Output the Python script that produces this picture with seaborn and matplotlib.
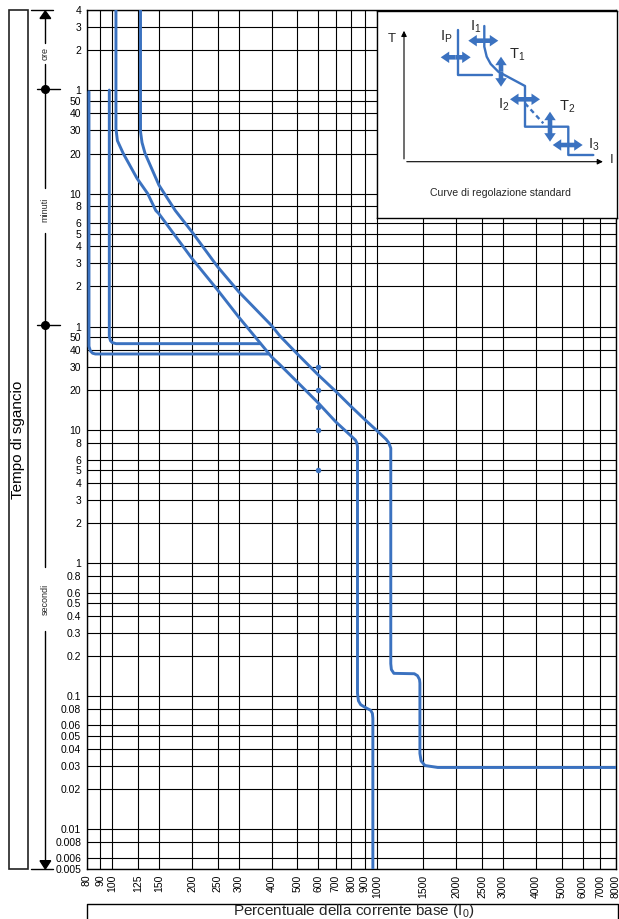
import pandas as pd
import seaborn as sns
import matplotlib.pyplot as plt
from matplotlib.patches import Rectangle, Polygon, FancyArrow
from matplotlib.ticker import NullLocator

# ---- data ----
# x grid, % of base current
x_ticks = [80, 90, 100, 125, 150, 200, 250, 300, 400, 500, 600, 700, 800, 900,
           1000, 1500, 2000, 2500, 3000, 4000, 5000, 6000, 7000, 8000]

# y grid: seconds / minutes / hours
sec_ticks = [0.005, 0.006, 0.008, 0.01, 0.02, 0.03, 0.04, 0.05, 0.06, 0.08,
             0.1, 0.2, 0.3, 0.4, 0.5, 0.6, 0.8, 1, 2, 3, 4, 5, 6, 8, 10,
             20, 30, 40, 50]
min_ticks = [1, 2, 3, 4, 5, 6, 8, 10, 20, 30, 40, 50]
hour_ticks = [1, 2, 3, 4]

# trip curves (current in %, time in s)
curve_a_pct = [81.6, 81.6, 82.6, 84.2, 86.3, 390]
curve_a_sec = [3500, 42.6, 39.3, 37.8, 37.3, 37.3]

curve_b_pct = [97.4, 97.4, 98.4, 100, 103.2, 362]
curve_b_sec = [3600, 50.4, 46.9, 45.4, 44.6, 44.6]

curve_low_pct = [103.2, 103.2, 104.5, 110, 124, 136, 146, 150, 200, 250, 300,
                 400, 430, 500, 600, 700, 800, 830, 840, 845, 845, 852, 869,
                 909, 948, 962, 966, 966]
curve_low_sec = [14400, 1850, 1500, 1200, 780, 600, 447, 423, 195, 113, 71,
                 35.5, 31, 23, 16, 11.5, 9, 8.4, 8.0, 7.5, 0.105, 0.092, 0.086,
                 0.0815, 0.078, 0.074, 0.068, 0.005]

curve_high_pct = [127.8, 127.8, 129.5, 133, 150, 173, 200, 250, 300, 400, 430,
                  500, 600, 700, 800, 900, 1000, 1085, 1110, 1129, 1129, 1135,
                  1160, 1386, 1425, 1450, 1455, 1455, 1470, 1520, 1700, 8000]
curve_high_sec = [14400, 1750, 1450, 1200, 695, 447, 309, 169, 110, 61, 51,
                  37.4, 26, 19.5, 15, 12, 9.9, 8.5, 8.0, 7.3, 0.175, 0.158,
                  0.148, 0.147, 0.142, 0.133, 0.125, 0.037, 0.0325, 0.030,
                  0.029, 0.029]

dot_pct = [600, 600, 600, 600, 600]
dot_sec = [30, 20, 15, 10, 5]

# schematic of the inset (local units, y pointing down)
sch_ip_x = [81.6, 81.6, 115]
sch_ip_y = [19, 64, 64]
sch_main_x = [107.6, 107.6, 110, 114, 121.6, 148.3, 148.3, 191.6, 191.6, 216.6]
sch_main_y = [15, 35.7, 45.7, 53, 60.7, 75, 115.7, 115.7, 144, 144]
sch_dash_x = [148.3, 166.6]
sch_dash_y = [92.3, 112.3]
# double arrows: centre x, centre y, orientation
sch_arrows = [(79, 46.3, 'h'), (106.6, 29.7, 'h'), (124.3, 60.7, 'v'),
              (148.3, 88.3, 'h'), (173.3, 115.7, 'v'), (191, 134, 'h')]
sch_labels = [(70, 25.7, r'$\mathrm{I}_\mathrm{P}$'), (99.3, 15.7, r'$\mathrm{I}_1$'),
              (140, 44, r'$\mathrm{T}_1$'), (127.3, 94, r'$\mathrm{I}_2$'),
              (190, 96.3, r'$\mathrm{T}_2$'), (216.6, 134, r'$\mathrm{I}_3$')]

blue = '#3b72c0'
W, H = 619, 919

sns.set_theme(style='white')
plt.rcParams['font.family'] = ['Liberation Sans', 'DejaVu Sans']
plt.rcParams['mathtext.fontset'] = 'custom'
plt.rcParams['mathtext.rm'] = 'Liberation Sans'
plt.rcParams['mathtext.it'] = 'Liberation Sans:italic'

fig = plt.figure(figsize=(W / 100, H / 100), dpi=100)
ax = fig.add_axes([86.7 / W, 1 - 869 / H, (615.7 - 86.7) / W, (869 - 10) / H])
ax.set_xscale('log')
ax.set_yscale('log')

for px, sy in [(curve_a_pct, curve_a_sec), (curve_b_pct, curve_b_sec),
               (curve_low_pct, curve_low_sec), (curve_high_pct, curve_high_sec)]:
    df = pd.DataFrame({'pct': px, 'sec': sy})
    sns.lineplot(data=df, x='pct', y='sec', sort=False, estimator=None,
                 color=blue, lw=2.1, ax=ax, zorder=3)
sns.scatterplot(x=dot_pct, y=dot_sec, color=blue, s=16, linewidth=0, alpha=1,
                ax=ax, zorder=4)

ax.set_xlim(80, 8000)
ax.set_ylim(0.005, 14400)

y_pos = sec_ticks + [m * 60 for m in min_ticks] + [h * 3600 for h in hour_ticks]
y_lab = [f'{v:g}' for v in sec_ticks + min_ticks + hour_ticks]
ax.set_yticks(y_pos)
ax.set_yticklabels(y_lab, fontsize=7.5)
ax.set_xticks(x_ticks)
ax.set_xticklabels([str(v) for v in x_ticks], rotation=90, fontsize=7.5)
ax.xaxis.set_minor_locator(NullLocator())
ax.yaxis.set_minor_locator(NullLocator())
ax.tick_params(length=0, pad=4, colors='black')
ax.grid(True, which='major', color='black', lw=0.8)
ax.set_xlabel('')
ax.set_ylabel('')
for s in ax.spines.values():
    s.set_color('black')
    s.set_linewidth(1)

# ---- overlay in pixel coordinates for the side decorations ----
ov = fig.add_axes([0, 0, 1, 1], zorder=5)
ov.set_xlim(0, W)
ov.set_ylim(H, 0)
ov.axis('off')
ov.patch.set_alpha(0)

ov.add_patch(Rectangle((9.3, 10), 18.7, 859, fill=False, ec='#222222', lw=1.2))
ov.text(18.5, 440, 'Tempo di sgancio', rotation=90, ha='center', va='center',
        fontsize=11, color='black')

cx = 45.3
kw = dict(color='black', lw=1)
ov.plot([30.7, 53.3], [10, 10], **kw)
ov.plot([30.7, 53.3], [869, 869], **kw)
ov.plot([cx, cx], [18, 43.3], **kw)
ov.plot([cx, cx], [64, 188], **kw)
ov.plot([cx, cx], [232.7, 566.7], **kw)
ov.plot([cx, cx], [630.7, 862], **kw)
ov.plot([36.7, 60], [89, 89], **kw)
ov.plot([36.7, 60], [324.7, 324.7], **kw)
ov.plot([cx, cx], [89, 324.7], 'o', color='black', ms=5.5)
ov.add_patch(Polygon([(cx, 11), (40, 18.5), (50.7, 18.5)], color='black'))
ov.add_patch(Polygon([(cx, 869), (40, 860.7), (50.7, 860.7)], color='black'))
ov.text(cx, 53.7, 'ore', rotation=90, ha='center', va='center', fontsize=6.5)
ov.text(cx, 210, 'minuti', rotation=90, ha='center', va='center', fontsize=6.5)
ov.text(cx, 599, 'secondi', rotation=90, ha='center', va='center', fontsize=6.5)

# x label box (runs past the bottom of the picture)
ov.plot([86.7, 86.7, 618.3, 618.3], [930, 903.5, 903.5, 930], color='black', lw=1)
ov.text(354, 915.5, r'Percentuale della corrente base ($\mathrm{I}_0$)',
        ha='center', va='baseline', fontsize=11)

# ---- inset with the standard regulation curves ----
ins = fig.add_axes([376.7 / W, 1 - 218 / H, (617 - 376.7) / W, (218 - 11) / H], zorder=6)
ins.set_xlim(0, 240.3)
ins.set_ylim(207, 0)
ins.set_xticks([])
ins.set_yticks([])
ins.set_facecolor('white')
for s in ins.spines.values():
    s.set_color('black')
    s.set_linewidth(1)

ins.annotate('', xy=(27.3, 17), xytext=(27.3, 150.7),
             arrowprops=dict(arrowstyle='-|>', color='black', lw=0.8, mutation_scale=8))
ins.annotate('', xy=(229, 150.7), xytext=(27.3, 150.7),
             arrowprops=dict(arrowstyle='-|>', color='black', lw=0.8, mutation_scale=8))
ins.text(15, 28.3, 'T', ha='center', va='center', fontsize=9.5)
ins.text(234.5, 149, 'I', ha='center', va='center', fontsize=9.5)

ins.plot(sch_ip_x, sch_ip_y, color=blue, lw=1.7)
ins.plot(sch_main_x, sch_main_y, color=blue, lw=1.7)
ins.plot(sch_dash_x, sch_dash_y, color=blue, lw=1.7, ls=(0, (2, 1.5)))
for ax_x, ax_y, o in sch_arrows:
    for d in (1, -1):
        dx, dy = (15 * d, 0) if o == 'h' else (0, 15 * d)
        ins.add_patch(FancyArrow(ax_x, ax_y, dx, dy, width=4.6, head_width=11.5,
                                 head_length=8.5, length_includes_head=True,
                                 color=blue, lw=0))
for lx, ly, t in sch_labels:
    ins.text(lx, ly, t, ha='center', va='center', fontsize=10.5)
ins.text(123.3, 182.3, 'Curve di regolazione standard', ha='center', va='center',
         fontsize=7.6)

fig.savefig('out.png', dpi=100)
